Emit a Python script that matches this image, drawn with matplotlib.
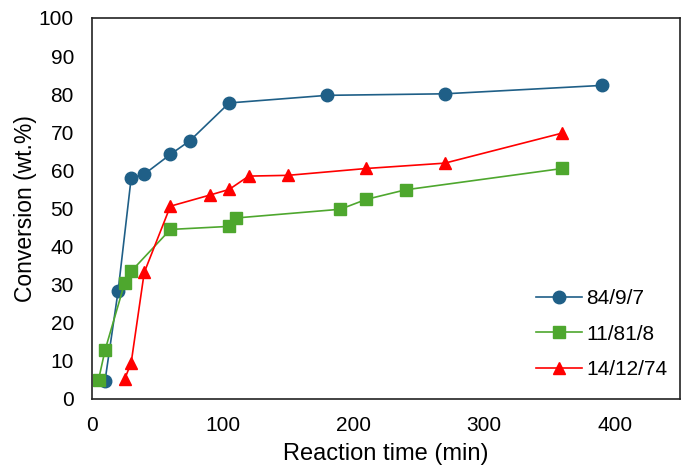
import matplotlib
matplotlib.use("Agg")
import matplotlib.pyplot as plt

plt.rcParams['font.family'] = ['Liberation Sans', 'DejaVu Sans']

# Data
labels = ["84/9/7", "11/81/8", "14/12/74"]
t_blue = [10, 20, 30, 40, 60, 75, 105, 180, 270, 390]
c_blue = [4.8, 28.3, 58.0, 59.0, 64.2, 67.8, 77.7, 79.7, 80.1, 82.3]
t_green = [5, 10, 25, 30, 60, 105, 110, 190, 210, 240, 360]
c_green = [5.0, 12.8, 30.4, 33.5, 44.5, 45.3, 47.5, 49.8, 52.4, 54.9, 60.5]
t_red = [25, 30, 40, 60, 90, 105, 120, 150, 210, 270, 360]
c_red = [5.2, 9.5, 33.2, 50.6, 53.5, 55.0, 58.5, 58.7, 60.5, 61.9, 69.8]
xticks = [0, 100, 200, 300, 400]
yticks = list(range(0, 101, 10))

fig = plt.figure(figsize=(6.92, 4.76), dpi=100)
ax = fig.add_axes([0.1329, 0.1618, 0.8497, 0.8004])

ax.plot(t_blue, c_blue, color='#1f5f87', marker='o', markersize=9, lw=1.2, label=labels[0])
ax.plot(t_green, c_green, color='#4ea72e', marker='s', markersize=8.5, lw=1.2, label=labels[1])
ax.plot(t_red, c_red, color='#ff0000', marker='^', markersize=9, lw=1.2, label=labels[2])

ax.set_xlim(0, 450)
ax.set_ylim(0, 100)
ax.set_xticks(xticks)
ax.set_yticks(yticks)
ax.tick_params(axis='x', length=0, labelsize=15, pad=12)
ax.tick_params(axis='y', length=0, labelsize=15, pad=13)
for s in ax.spines.values():
    s.set_linewidth(1.2)
    s.set_color('#222222')

ax.set_xlabel("Reaction time (min)", fontsize=17, labelpad=6)
ax.set_ylabel("Conversion (wt.%)", fontsize=16.5, labelpad=1)

ax.legend(loc='lower right', frameon=False, fontsize=15, handlelength=2.2,
          labelspacing=0.8, bbox_to_anchor=(1.0, 0.019), handletextpad=0.2,
          borderaxespad=0.2)

fig.savefig("out.png", dpi=100)
